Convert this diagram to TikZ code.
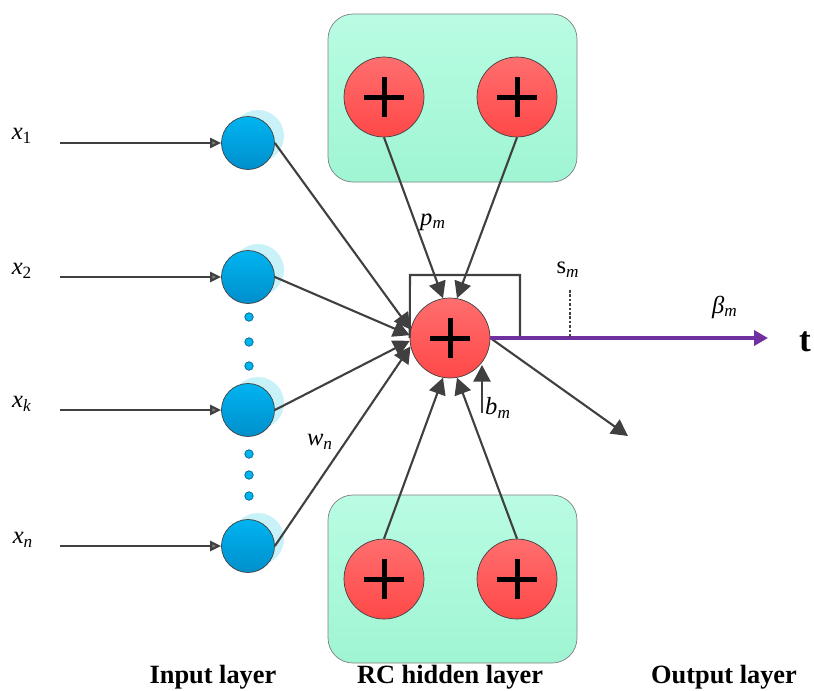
\documentclass[tikz,border=0pt]{standalone}
\usepackage{fontspec}
\setmainfont{Liberation Serif}
\usetikzlibrary{arrows.meta}
\definecolor{linegray}{HTML}{404040}
\definecolor{bluetop}{HTML}{00B4F0}
\definecolor{bluebot}{HTML}{008FCC}
\definecolor{halo}{HTML}{C9F1F8}
\definecolor{redtop}{HTML}{FF6E6E}
\definecolor{redbot}{HTML}{FF4848}
\definecolor{minttop}{HTML}{B9FCE3}
\definecolor{mintbot}{HTML}{9FF5D3}
\definecolor{outpurple}{HTML}{7030A0}
\tikzset{
  inputnode/.style={circle, draw=linegray, top color=bluetop, bottom color=bluebot,
    minimum size=1.06cm, inner sep=0pt},
  sumnode/.style={circle, draw=linegray, top color=redtop, bottom color=redbot,
    minimum size=1.6cm, inner sep=0pt,
    path picture={
      \draw[black, line width=0.1cm]
        ([xshift=-0.4cm]path picture bounding box.center) -- ([xshift=0.4cm]path picture bounding box.center)
        ([yshift=-0.4cm]path picture bounding box.center) -- ([yshift=0.4cm]path picture bounding box.center);
    }},
  rcbox/.style={draw=gray, top color=minttop, bottom color=mintbot, rounded corners=0.5cm},
  dotnode/.style={circle, fill=bluetop, draw=bluebot!70!black, minimum size=0.17cm, inner sep=0pt},
  feed/.style={linegray, line width=1.2pt, -{Triangle[length=0.33cm,width=0.34cm]}},
  inarrow/.style={linegray, line width=1.2pt, -{Triangle[length=0.22cm,width=0.2cm,fill=gray]}},
  lbl/.style={font=\fontsize{14}{16}\selectfont},
  layername/.style={font=\fontsize{15}{18}\selectfont\bfseries},
}

\begin{document}
\begin{tikzpicture}[x=0.02cm, y=-0.02cm]
	\useasboundingbox (0,0) rectangle (814,690);
	% RC boxes
	\draw[rcbox] (328,14) rectangle (577,182);
	\draw[rcbox] (328,495) rectangle (577,663);
	\node[sumnode] (t1) at (384,97) {};
	\node[sumnode] (t2) at (517,97) {};
	\node[sumnode] (b1) at (384,579) {};
	\node[sumnode] (b2) at (517,579) {};
	\node[sumnode] (hub) at (450,338) {};
	%
	% input layer
	\foreach \n/\y in {1/143, 2/277, k/410, n/546} {
		\fill[halo] ({248+10},{\y-7}) circle [radius=0.52cm];
		\node[inputnode] (in\n) at (248,\y) {};
		\coordinate (s\n) at (60,\y);
		\draw[inarrow] (s\n) -- (in\n);
	}
	\foreach \y [count=\i] in {317, 342, 366, 454, 475, 496}
		\node[dotnode] (d\i) at (249,\y) {};
	%
	\draw[feed] (in1.east) -- (hub.168);
	\draw[feed] (in2.east) -- (hub.176);
	\draw[feed] (ink.east) -- (hub.184);
	\draw[feed] (inn.east) -- (hub.192);
	\draw[feed] (t1.south) -- (hub.100);
	\draw[feed] (t2.south) -- (hub.80);
	\draw[feed] (b1.north) -- (hub.260);
	\draw[feed] (b2.north) -- (hub.280);
	%
	\coordinate (loopa) at (410,275);
	\coordinate (loopb) at (520,275);
	\draw[linegray, line width=1.2pt] (hub.west) -- (loopa) -- (loopb) -- (loopb |- hub.east);
	\coordinate (bbot) at (482,413);
	\coordinate (btop) at (482,365);
	\draw[feed] (bbot) -- (btop);
	\coordinate (rout) at (628,436);
	\draw[feed] (hub.east) -- (rout);
	\coordinate (tend) at (768,338);
	\draw[outpurple, line width=0.08cm, -{Triangle[length=0.28cm,width=0.3cm]}] (hub.east) -- (tend);
	\coordinate (smtop) at (570,290);
	\coordinate (smbot) at (570,338);
	\draw[linegray, dash pattern=on 1.5pt off 1pt, line width=1.1pt] (smtop) -- (smbot);
	%
	\node[lbl] (lx1) at (22,136) {\textit{x}\textsubscript{1}};
	\node[lbl] (lx2) at (22,271) {\textit{x}\textsubscript{2}};
	\node[lbl] (lxk) at (22,404) {\textit{x}\textsubscript{\textit{k}}};
	\node[lbl] (lxn) at (23,540) {\textit{x}\textsubscript{\textit{n}}};
	\node[lbl] (lp) at (433,222) {\textit{p}\textsubscript{\textit{m}}};
	\node[lbl] (ls) at (568,270) {s\textsubscript{\textit{m}}};
	\node[lbl] (lbeta) at (725,307) {\textit{β}\textsubscript{\textit{m}}};
	\node[lbl] (lb) at (498,408) {\textit{b}\textsubscript{\textit{m}}};
	\node[lbl] (lw) at (320,442) {\textit{w}\textsubscript{\textit{n}}};
	\node[font=\fontsize{20}{24}\selectfont\bfseries] (lt) at (805,342) {t};
	\node[layername] (linput) at (213,677) {Input layer};
	\node[layername] (lhidden) at (450,677) {RC hidden layer};
	\node[layername] (loutput) at (724,677) {Output layer};
\end{tikzpicture}
\end{document}
